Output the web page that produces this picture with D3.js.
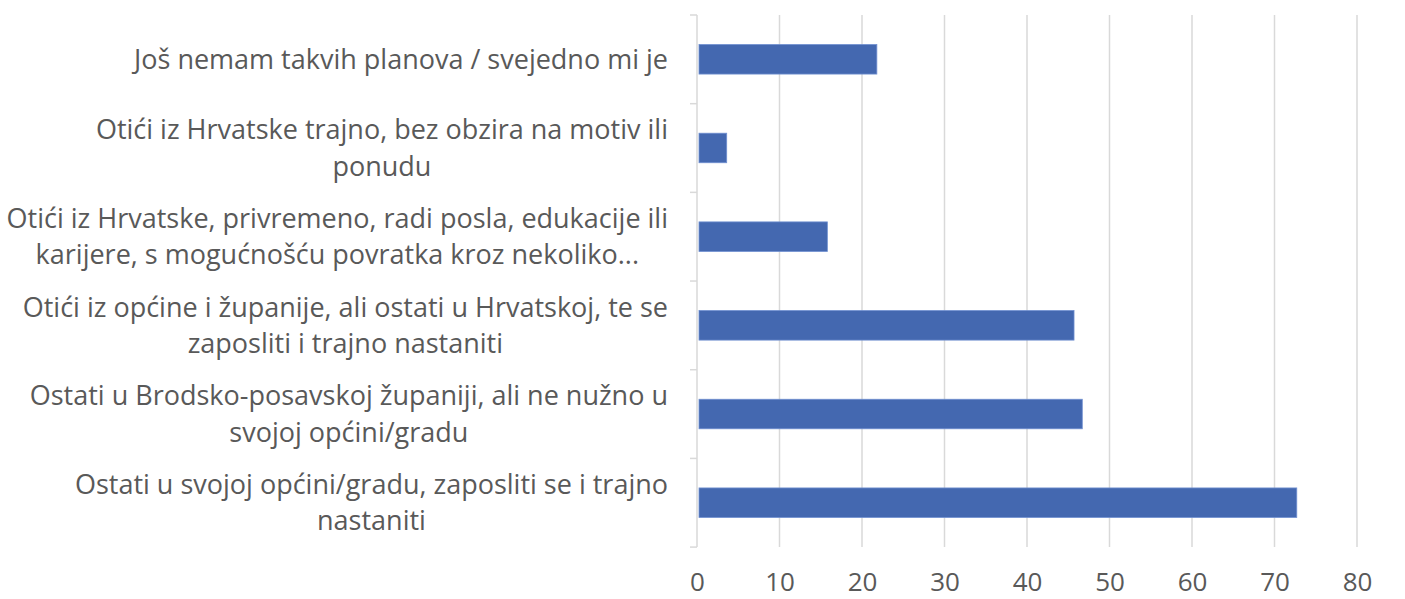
<!DOCTYPE html>
<html>
<head>
<meta charset="utf-8">
<script src="https://cdn.jsdelivr.net/npm/d3@7"></script>
<style>
  body { margin: 0; background: #fff; }
  text { font-family: "Open Sans", Lato, sans-serif; fill: #595959; }
</style>
</head>
<body>
<svg id="chart" width="1405" height="599"></svg>
<script>
const categories = [
    "Još nemam takvih planova / svejedno mi je",
    "Otići iz Hrvatske trajno, bez obzira na motiv ili\nponudu",
    "Otići iz Hrvatske, privremeno, radi posla, edukacije ili\nkarijere, s mogućnošću povratka kroz nekoliko...",
    "Otići iz općine i županije, ali ostati u Hrvatskoj, te se\nzaposliti i trajno nastaniti",
    "Ostati u Brodsko-posavskoj županiji, ali ne nužno u\nsvojoj općini/gradu",
    "Ostati u svojoj općini/gradu, zaposliti se i trajno\nnastaniti"
];
const values = [21.8, 3.6, 15.8, 45.7, 46.7, 72.7];
const xTicks = [0, 10, 20, 30, 40, 50, 60, 70, 80];

const svg = d3.select("#chart");
const margin = {top: 15, left: 697, right: 48, bottom: 52};
const width = 1405, height = 599;

const x = d3.scaleLinear()
    .domain([0, 80])
    .range([margin.left, width - margin.right]);

const y = d3.scaleBand()
    .domain(categories)
    .range([margin.top, height - margin.bottom])
    .paddingInner(0.667)
    .paddingOuter(0.333);

// gridlines
svg.append("g")
    .selectAll("line")
    .data(xTicks.slice(1))
    .join("line")
    .attr("x1", d => x(d)).attr("x2", d => x(d))
    .attr("y1", margin.top).attr("y2", height - margin.bottom)
    .attr("stroke", "#d9d9d9")
    .attr("stroke-width", 1.5);

// x tick labels
const xAxis = svg.append("g")
    .attr("transform", `translate(0,${height - margin.bottom})`)
    .call(d3.axisBottom(x).tickValues(xTicks).tickSize(0).tickPadding(26));
xAxis.select(".domain").remove();
xAxis.selectAll("text")
    .attr("fill", "#595959")
    .style("font-family", "\"Open Sans\", sans-serif")
    .style("font-size", "26px")
    .attr("dy", "0.71em");

// bars
svg.append("g")
    .selectAll("rect")
    .data(values)
    .join("rect")
    .attr("x", x(0) + 2)
    .attr("y", (d, i) => y(categories[i]))
    .attr("width", d => x(d) - x(0) - 2)
    .attr("height", y.bandwidth())
    .attr("fill", "#4468b0")
    .attr("stroke", "#6f8fd0")
    .attr("stroke-width", 0.8);

// y axis line and band ticks
const step = y.step();
const yAxis = svg.append("g");
yAxis.append("line")
    .attr("x1", x(0)).attr("x2", x(0))
    .attr("y1", margin.top).attr("y2", height - margin.bottom)
    .attr("stroke", "#d9d9d9")
    .attr("stroke-width", 1.5);
yAxis.selectAll(".tk")
    .data(d3.range(categories.length + 1))
    .join("line")
    .attr("class", "tk")
    .attr("x1", x(0) - 7).attr("x2", x(0))
    .attr("y1", i => margin.top + i * step)
    .attr("y2", i => margin.top + i * step)
    .attr("stroke", "#d9d9d9")
    .attr("stroke-width", 1.5);

// category labels (right aligned block, lines centred)
const lineH = 36.5;
const labelRight = 668;
categories.forEach((c, i) => {
    const lines = c.split("\n");
    const cy = y(c) + y.bandwidth() / 2;
    const g = svg.append("g");
    const texts = g.selectAll("text")
        .data(lines)
        .join("text")
        .attr("y", (d, j) => cy + (j - (lines.length - 1) / 2) * lineH)
        .attr("dy", "0.35em")
        .attr("text-anchor", "middle")
        .style("font-size", "27px")
        .text(d => d);
    const maxW = d3.max(texts.nodes(), n => n.getComputedTextLength());
    texts.attr("x", labelRight - maxW / 2);
});
</script>
</body>
</html>
